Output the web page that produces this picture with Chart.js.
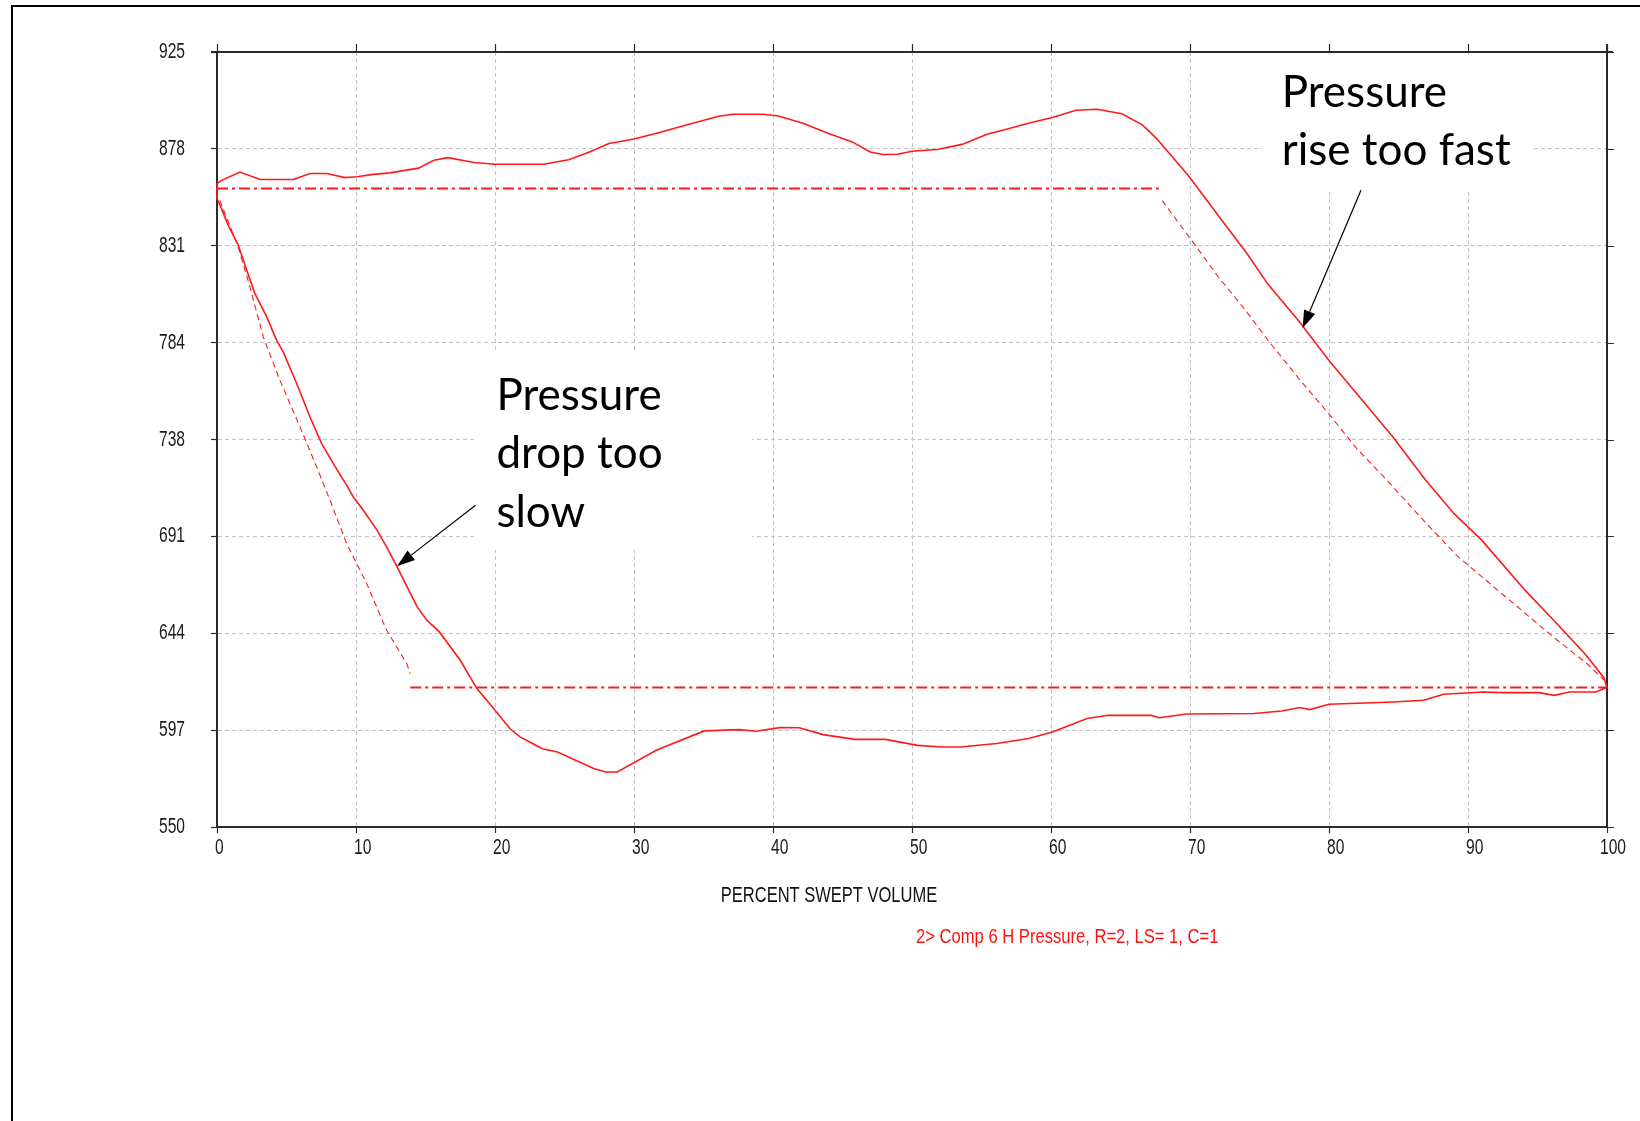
<!DOCTYPE html>
<html>
<head>
<meta charset="utf-8">
<title>Comp 6 H Pressure - PV</title>
<script src="https://cdn.jsdelivr.net/npm/chart.js@4.4.1/dist/chart.umd.min.js"></script>
<style>
  html, body { margin: 0; padding: 0; background: #ffffff; }
  #wrap { position: relative; width: 1640px; height: 1121px; }
  canvas { display: block; }
</style>
</head>
<body>
<div id="wrap"><canvas id="pv" width="1640" height="1121"></canvas></div>
<script>
// ---- measured cylinder trace (one full cycle, percent swept volume vs pressure) ----
// compression (100 -> 68), discharge (68 -> 0), expansion (0 -> 28), suction (28 -> 100)
const measuredVolume = [
  100, 99.8, 98.5, 96.2, 94.1, 91.0, 89.0, 86.9, 84.6, 82.3, 80.0, 77.9, 75.6, 74.1, 72.3, 69.95,
  67.6, 66.6, 65.1, 63.3, 61.8, 60.1, 58.3, 56.8, 55.4, 53.6, 51.8, 50.0, 48.95, 47.9, 47.0, 45.7,
  43.9, 42.2, 40.4, 39.3, 37.1, 36.1, 33.9, 31.7, 30.0, 28.2, 26.8, 25.3, 23.5, 20.0, 18.5, 16.6,
  15.6, 14.5, 12.45, 11.25, 10.05, 9.2, 7.9, 6.7, 5.5, 3.1, 1.65, 0.34, 0,
  0, 0.22, 0.81, 1.53, 2.14, 2.73, 3.58, 4.29, 4.77, 5.73, 6.69, 7.53, 8.37, 9.33, 9.81, 10.5,
  11.5, 12.2, 12.9, 14.4, 15.1, 16.0, 17.5, 18.7, 19.9, 21.1, 21.8, 22.5, 23.4, 24.5, 27.1, 27.95,
  28.8, 31.6, 35.05, 37.6, 38.75, 40.5, 41.9, 43.6, 45.9, 48.1, 50.4, 52.1, 53.5, 56.1, 58.4, 60.1,
  62.6, 64.1, 67.2, 67.8, 69.75, 74.6, 76.6, 77.9, 78.6, 80.0, 84.6, 86.8, 88.25, 91.1, 92.5, 95.1,
  96.2, 97.3, 99.2, 99.8, 100
];
const measuredPressure = [
  617.4, 622.0, 633.1, 649.8, 664.6, 688.7, 701.6, 718.3, 738.7, 757.2, 775.7, 794.2, 812.7, 827.5, 843.5, 864.6,
  883.1, 889.6, 895.1, 897.3, 896.8, 893.3, 890.4, 887.6, 885.2, 880.3, 877.8, 877.0, 875.5, 875.4, 876.6, 881.5,
  885.8, 890.4, 894.0, 894.9, 894.9, 893.9, 889.9, 885.8, 882.9, 880.7, 876.6, 872.9, 870.7, 870.7, 871.5, 873.9,
  872.6, 868.8, 866.5, 865.8, 864.6, 864.2, 866.2, 866.2, 863.3, 863.3, 866.9, 862.9, 861.3,
  854.1, 850.8, 841.1, 831.5, 819.4, 808.1, 796.8, 785.5, 779.8, 764.6, 748.4, 735.5, 725.8, 715.3, 709.7, 703.5,
  693.8, 685.5, 676.6, 656.5, 650.0, 644.4, 630.7, 617.0, 607.3, 597.4, 593.6, 591.1, 587.9, 586.3, 578.3, 576.6,
  576.6, 587.1, 596.5, 597.1, 596.3, 598.1, 598.0, 594.7, 592.4, 592.4, 589.5, 588.7, 588.7, 590.4, 592.8, 596.0,
  602.5, 604.1, 604.0, 602.9, 604.7, 604.9, 606.1, 607.8, 606.8, 609.4, 610.5, 611.3, 614.2, 615.3, 615.0, 615.0,
  613.7, 615.3, 615.3, 617.0, 617.4
];

// ---- theoretical cycle ----
const dischargeVolume = [0, 67.9];
const dischargePressure = [858.9, 858.9];
const suctionVolume = [13.9, 100];
const suctionPressure = [617.5, 617.5];
const compressionVolume = [68.0, 70.2, 72.0, 73.8, 75.9, 77.9, 80.0, 82.0, 84.1, 86.6, 89.2, 91.8, 94.1, 96.4, 98.5, 99.8];
const compressionPressure = [853.1, 833.1, 816.5, 801.6, 783.1, 766.4, 749.8, 733.1, 718.3, 699.8, 681.3, 666.5, 653.5, 640.5, 629.4, 621.1];
const expansionVolume = [0.2, 1.53, 2.37, 3.33, 4.53, 5.97, 7.17, 8.13, 9.33, 10.77, 12.2, 13.65, 13.9];
const expansionPressure = [853.2, 830.6, 811.3, 787.1, 766.1, 743.6, 724.2, 708.1, 687.1, 667.8, 645.2, 629.1, 624.2];

// ---- axes ----
const xMin = 0, xMax = 100, xStep = 10;
const yMin = 550, yMax = 925;
const yTickLabels = ['550', '597', '644', '691', '738', '784', '831', '878', '925'];

const xTitle = 'PERCENT SWEPT VOLUME';
const traceLabel = '2> Comp 6 H Pressure, R=2, LS= 1, C=1';

const RED = '#ff1a1a';
const AXIS = '#2b2b2b';
const GRID = '#c2c2c2';
const LABEL_FONT = "'Liberation Sans', Arial, sans-serif";
const NOTE_FONT = "Lato, 'Open Sans', sans-serif";

function pts(xs, ys) { return xs.map((x, i) => ({ x: x, y: ys[i] })); }

// horizontally condensed text (the plotting package uses a tall, narrow face)
function narrowText(ctx, text, x, y, sx, align) {
  ctx.save();
  ctx.translate(x, y);
  ctx.scale(sx, 1);
  ctx.textAlign = align;
  ctx.fillText(text, 0, 0);
  ctx.restore();
}

const plotFrame = {
  id: 'plotFrame',
  beforeDraw(chart) {
    const ctx = chart.ctx;
    ctx.save();
    ctx.fillStyle = '#ffffff';
    ctx.fillRect(0, 0, chart.width, chart.height);
    ctx.fillStyle = '#000000';
    ctx.fillRect(11, 5, 2, chart.height - 5);
    ctx.fillRect(11, 5, chart.width - 11, 2);
    ctx.restore();
  },
  beforeDatasetsDraw(chart) {
    const { ctx, chartArea: a, scales: { x, y } } = chart;
    ctx.save();
    ctx.fillStyle = '#ffffff';
    // white panels behind the callouts
    const panels = [[75.2, 923.9, 94.6, 858.1], [18.5, 779.7, 38.5, 683.9]];
    panels.forEach(p => {
      const x0 = x.getPixelForValue(p[0]), y0 = y.getPixelForValue(p[1]);
      const x1 = x.getPixelForValue(p[2]), y1 = y.getPixelForValue(p[3]);
      ctx.fillRect(x0, y0, x1 - x0, y1 - y0);
    });
    // top and right axis lines with outward ticks
    ctx.strokeStyle = AXIS;
    ctx.lineWidth = 2;
    ctx.beginPath();
    ctx.moveTo(a.left - 6, a.top);
    ctx.lineTo(a.right + 6, a.top);
    ctx.moveTo(a.right, a.top - 8);
    ctx.lineTo(a.right, a.bottom);
    ctx.stroke();
    ctx.lineWidth = 1.2;
    ctx.beginPath();
    x.ticks.forEach(t => {
      const px = Math.round(x.getPixelForValue(t.value)) + 0.5;
      ctx.moveTo(px, a.top);
      ctx.lineTo(px, a.top - 8);
    });
    y.ticks.forEach(t => {
      const py = Math.round(y.getPixelForValue(t.value)) + 0.5;
      ctx.moveTo(a.right, py);
      ctx.lineTo(a.right + 7, py);
    });
    ctx.stroke();

    // tick labels
    ctx.fillStyle = '#1a1a1a';
    ctx.font = '22px ' + LABEL_FONT;
    ctx.textBaseline = 'middle';
    y.ticks.forEach((t, i) => {
      narrowText(ctx, yTickLabels[i], a.left - 32, y.getPixelForValue(t.value), 0.71, 'right');
    });
    ctx.textBaseline = 'alphabetic';
    x.ticks.forEach(t => {
      const s = String(t.value);
      const px = x.getPixelForValue(t.value) - 2 - (s.length > 2 ? 5 : 0);
      narrowText(ctx, s, px, a.bottom + 27, 0.71, 'left');
    });
    ctx.restore();
  },
  afterDatasetsDraw(chart) {
    const { ctx, chartArea: a, scales: { x, y } } = chart;
    ctx.save();
    // callout text
    ctx.fillStyle = '#000000';
    ctx.font = '44px ' + NOTE_FONT;
    ctx.textAlign = 'left';
    ctx.textBaseline = 'alphabetic';
    const notes = [
      [76.6, 898.4, 'Pressure'], [76.6, 870.2, 'rise too fast'],
      [20.1, 751.8, 'Pressure'], [20.1, 723.6, 'drop too'], [20.1, 695.4, 'slow']
    ];
    notes.forEach(n => ctx.fillText(n[2], x.getPixelForValue(n[0]), y.getPixelForValue(n[1])));
    // callout arrows
    const arrows = [[82.3, 858.1, 78.1, 791.3], [18.6, 705.7, 12.95, 676.2]];
    arrows.forEach(ar => {
      const x0 = x.getPixelForValue(ar[0]), y0 = y.getPixelForValue(ar[1]);
      const x1 = x.getPixelForValue(ar[2]), y1 = y.getPixelForValue(ar[3]);
      const ang = Math.atan2(y1 - y0, x1 - x0);
      const hl = 18, hw = 6;
      const bx = x1 - hl * Math.cos(ang), by = y1 - hl * Math.sin(ang);
      ctx.strokeStyle = '#000000';
      ctx.lineWidth = 1.2;
      ctx.beginPath();
      ctx.moveTo(x0, y0);
      ctx.lineTo(bx, by);
      ctx.stroke();
      ctx.beginPath();
      ctx.moveTo(x1, y1);
      ctx.lineTo(bx + hw * Math.sin(ang), by - hw * Math.cos(ang));
      ctx.lineTo(bx - hw * Math.sin(ang), by + hw * Math.cos(ang));
      ctx.closePath();
      ctx.fillStyle = '#000000';
      ctx.fill();
    });
    // axis title and trace label
    ctx.textBaseline = 'alphabetic';
    ctx.fillStyle = '#111111';
    ctx.font = '22px ' + LABEL_FONT;
    narrowText(ctx, xTitle, 829, a.bottom + 75, 0.75, 'center');
    ctx.fillStyle = '#ff1010';
    ctx.font = '21px ' + LABEL_FONT;
    narrowText(ctx, traceLabel, 916, a.bottom + 116, 0.79, 'left');
    ctx.restore();
  }
};

const lineBase = { showLine: true, pointRadius: 0, pointHoverRadius: 0, fill: false, tension: 0, clip: false };

function build() {
  new Chart(document.getElementById('pv'), {
    type: 'scatter',
    data: {
      datasets: [
        Object.assign({}, lineBase, { label: 'measured', data: pts(measuredVolume, measuredPressure), borderColor: RED, borderWidth: 1.6 }),
        Object.assign({}, lineBase, { label: 'discharge', data: pts(dischargeVolume, dischargePressure), borderColor: RED, borderWidth: 2, borderDash: [11, 4, 3, 4] }),
        Object.assign({}, lineBase, { label: 'suction', data: pts(suctionVolume, suctionPressure), borderColor: RED, borderWidth: 2, borderDash: [11, 4, 3, 4] }),
        Object.assign({}, lineBase, { label: 'compression', data: pts(compressionVolume, compressionPressure), borderColor: RED, borderWidth: 1.1, borderDash: [6, 4] }),
        Object.assign({}, lineBase, { label: 'expansion', data: pts(expansionVolume, expansionPressure), borderColor: RED, borderWidth: 1.1, borderDash: [6, 4] })
      ]
    },
    options: {
      responsive: false,
      animation: false,
      devicePixelRatio: 1,
      events: [],
      layout: { padding: { left: 0, top: 52, right: 33, bottom: 254 } },
      plugins: { legend: { display: false }, tooltip: { enabled: false }, title: { display: false } },
      scales: {
        x: {
          type: 'linear', position: 'bottom', min: xMin, max: xMax,
          afterFit: s => { s.height = 40; },
          ticks: { stepSize: xStep, display: false },
          grid: { color: GRID, lineWidth: 1, borderDash: [4, 3], drawTicks: true, tickLength: 6, tickColor: AXIS, tickWidth: 1.2, tickBorderDash: [] },
          border: { display: true, color: AXIS, width: 2, dash: [4, 3] }
        },
        y: {
          type: 'linear', position: 'left', min: yMin, max: yMax,
          afterFit: s => { s.width = 217; },
          afterBuildTicks: s => {
            s.ticks = yTickLabels.map((l, i) => ({ value: yMin + i * (yMax - yMin) / (yTickLabels.length - 1) }));
          },
          ticks: { display: false },
          grid: { color: GRID, lineWidth: 1, borderDash: [4, 3], drawTicks: true, tickLength: 6, tickColor: AXIS, tickWidth: 1.2, tickBorderDash: [] },
          border: { display: true, color: AXIS, width: 2, dash: [4, 3] }
        }
      }
    },
    plugins: [plotFrame]
  });
}

Promise.all([
  document.fonts.load('44px Lato'),
  document.fonts.load("22px 'Liberation Sans'")
]).then(build, build);
</script>
</body>
</html>
